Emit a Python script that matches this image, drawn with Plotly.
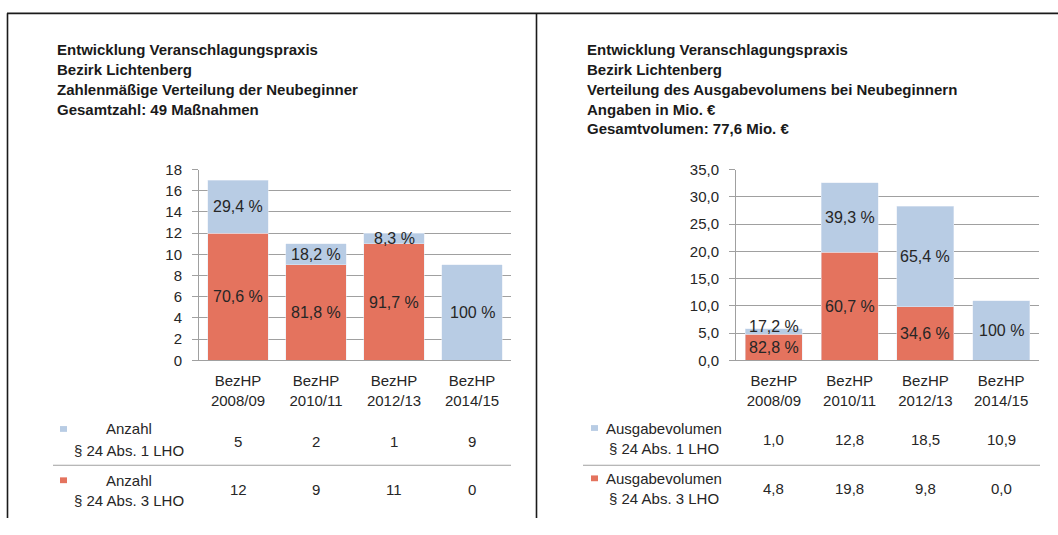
import plotly.graph_objects as go

# --- data -------------------------------------------------------------
categories = ["BezHP<br>2008/09", "BezHP<br>2010/11", "BezHP<br>2012/13", "BezHP<br>2014/15"]

anzahl_abs1 = [5, 2, 1, 9]        # Anzahl § 24 Abs. 1 LHO
anzahl_abs3 = [12, 9, 11, 0]      # Anzahl § 24 Abs. 3 LHO

volumen_abs1 = [1.0, 12.8, 18.5, 10.9]   # Ausgabevolumen § 24 Abs. 1 LHO (Mio. €)
volumen_abs3 = [4.8, 19.8, 9.8, 0.0]     # Ausgabevolumen § 24 Abs. 3 LHO (Mio. €)

title_left = [
    "Entwicklung Veranschlagungspraxis",
    "Bezirk Lichtenberg",
    "Zahlenmäßige Verteilung der Neubeginner",
    "Gesamtzahl: 49 Maßnahmen",
]
title_right = [
    "Entwicklung Veranschlagungspraxis",
    "Bezirk Lichtenberg",
    "Verteilung des Ausgabevolumens bei Neubeginnern",
    "Angaben in Mio. €",
    "Gesamtvolumen: 77,6 Mio. €",
]
row_labels_left = [["Anzahl", "§ 24 Abs. 1 LHO"], ["Anzahl", "§ 24 Abs. 3 LHO"]]
row_labels_right = [["Ausgabevolumen", "§ 24 Abs. 1 LHO"], ["Ausgabevolumen", "§ 24 Abs. 3 LHO"]]

# --- styling ----------------------------------------------------------
# the figure is a little shorter than the page so the page itself stays
# 535 px tall (the plot div leaves a few pixels of space beneath it)
W, H = 1058, 526
BLUE = "#B8CCE4"
RED = "#E4735E"
GRID = "#A0A0A0"
TXT = "#262626"
FONT = "Liberation Sans, Arial, sans-serif"
SZ = 15          # axis / table text
PCT_SZ = 16      # percentage labels inside the bars
PLOT_TOP, PLOT_BOTTOM = 166, 363   # vertical extent of both plot areas (px)


def px(x):
    return x / W


def py(y):
    return 1 - y / H


def pct_label(part, total):
    if part == 0:
        return ""
    p = round(part / total * 100, 1)
    if p == 100:
        return "100 %"
    return f"{p:.1f}".replace(".", ",") + " %"


fig = go.Figure()
annotations = []
shapes = []


def add_panel(xref, yref, bottom, top, width, ymax):
    fig.add_trace(go.Bar(x=categories, y=bottom, marker_color=RED, width=width,
                         xaxis=xref, yaxis=yref, showlegend=False, hoverinfo="skip"))
    fig.add_trace(go.Bar(x=categories, y=top, marker_color=BLUE, width=width,
                         xaxis=xref, yaxis=yref, showlegend=False, hoverinfo="skip"))
    unit_px = (PLOT_BOTTOM - PLOT_TOP) / ymax
    # percentage labels centred in each segment; a top label that would
    # collide with the one below it is nudged upwards
    for c, b, t in zip(categories, bottom, top):
        tot = b + t
        if b > 0:
            annotations.append(dict(xref=xref, yref=yref, x=c, y=b / 2, showarrow=False,
                                    text=pct_label(b, tot), xanchor="center", yanchor="middle",
                                    font=dict(family=FONT, size=PCT_SZ, color=TXT)))
        if t > 0:
            shift = 0
            if b > 0:
                gap = (b + t / 2 - b / 2) * unit_px
                if gap < 21:
                    shift = 21 - gap
            annotations.append(dict(xref=xref, yref=yref, x=c, y=b + t / 2, showarrow=False,
                                    text=pct_label(t, tot), xanchor="center", yanchor="middle",
                                    yshift=shift,
                                    font=dict(family=FONT, size=PCT_SZ, color=TXT)))


add_panel("x", "y", anzahl_abs3, anzahl_abs1, 0.77, 18)
add_panel("x2", "y2", volumen_abs3, volumen_abs1, 0.75, 35)

axis_common = dict(
    showgrid=False, showline=True, linecolor=GRID, linewidth=1,
    tickfont=dict(family=FONT, size=SZ, color=TXT), fixedrange=True,
)
yaxis_common = dict(
    showgrid=True, gridcolor=GRID, gridwidth=1, showline=True, linecolor=GRID,
    linewidth=1, ticks="outside", ticklen=6, tickcolor=GRID, zeroline=False,
    ticklabelstandoff=7,
    tickfont=dict(family=FONT, size=SZ, color=TXT), fixedrange=True,
)

fig.update_layout(
    width=W, height=H,
    margin=dict(l=0, r=0, t=0, b=0),
    paper_bgcolor="white", plot_bgcolor="white",
    barmode="stack",
    separators=",.",
    font=dict(family=FONT, color=TXT),
    xaxis=dict(domain=[px(199), px(511)], anchor="y", ticks="outside", ticklen=7,
               tickcolor="rgba(0,0,0,0)", **axis_common),
    yaxis=dict(domain=[py(PLOT_BOTTOM), py(PLOT_TOP)], anchor="x", range=[0, 18], dtick=2,
               tickformat="d", **yaxis_common),
    xaxis2=dict(domain=[px(736), px(1039)], anchor="y2", ticks="outside", ticklen=7,
                tickcolor="rgba(0,0,0,0)", **axis_common),
    yaxis2=dict(domain=[py(PLOT_BOTTOM), py(PLOT_TOP)], anchor="x2", range=[0, 35], dtick=5,
                tickformat=".1f", **yaxis_common),
)

# titles
for i, line in enumerate(title_left):
    annotations.append(dict(xref="paper", yref="paper", x=px(55), y=py(42 + i * 20.5),
                            xanchor="left", yanchor="middle", showarrow=False, text=f"<b>{line}</b>",
                            font=dict(family=FONT, size=15, color="#1a1a1a")))
for i, line in enumerate(title_right):
    annotations.append(dict(xref="paper", yref="paper", x=px(585), y=py(42 + i * 20.5),
                            xanchor="left", yanchor="middle", showarrow=False, text=f"<b>{line}</b>",
                            font=dict(family=FONT, size=15, color="#1a1a1a")))


def add_table(xref, rows, labels, label_cx, key_x, row_y, sep, fmt):
    colors = [BLUE, RED]
    for r, (vals, lab) in enumerate(zip(rows, labels)):
        y1, y2, yv = row_y[r]
        shapes.append(dict(type="rect", xref="paper", yref="paper",
                           x0=px(key_x), x1=px(key_x + 7), y0=py(y1 - 3), y1=py(y1 + 3),
                           fillcolor=colors[r], line=dict(width=0)))
        annotations.append(dict(xref="paper", yref="paper", x=px(label_cx), y=py(y1),
                                xanchor="center", yanchor="middle", showarrow=False,
                                text=lab[0], font=dict(family=FONT, size=SZ, color=TXT)))
        annotations.append(dict(xref="paper", yref="paper", x=px(label_cx), y=py(y2),
                                xanchor="center", yanchor="middle", showarrow=False,
                                text=lab[1], font=dict(family=FONT, size=SZ, color=TXT)))
        for c, v in zip(categories, vals):
            annotations.append(dict(xref=xref, yref="paper", x=c, y=py(yv),
                                    xanchor="center", yanchor="middle", showarrow=False,
                                    text=fmt(v), font=dict(family=FONT, size=SZ, color=TXT)))
    shapes.append(dict(type="line", xref="paper", yref="paper",
                       x0=px(sep[0]), x1=px(sep[1]), y0=py(471.5), y1=py(471.5),
                       line=dict(color=GRID, width=1)))


add_table("x", [anzahl_abs1, anzahl_abs3], row_labels_left, 129, 60,
          [(434, 456, 447), (487, 508, 497)], (53, 511), lambda v: f"{v:d}")
add_table("x2", [volumen_abs1, volumen_abs3], row_labels_right, 664, 591,
          [(433, 454, 445), (485, 506, 496)], (583, 1040),
          lambda v: f"{v:.1f}".replace(".", ","))

# panel frame lines
frame = dict(color="#1a1a1a", width=1.6)
shapes.append(dict(type="line", xref="paper", yref="paper", x0=px(7), x1=1, y0=py(4.5), y1=py(4.5), line=frame))
shapes.append(dict(type="line", xref="paper", yref="paper", x0=px(7.5), x1=px(7.5), y0=py(4.5), y1=0, line=frame))
shapes.append(dict(type="line", xref="paper", yref="paper", x0=px(536.5), x1=px(536.5), y0=py(4.5), y1=0, line=frame))

fig.update_layout(annotations=annotations, shapes=shapes)

fig.write_html("out.html")
